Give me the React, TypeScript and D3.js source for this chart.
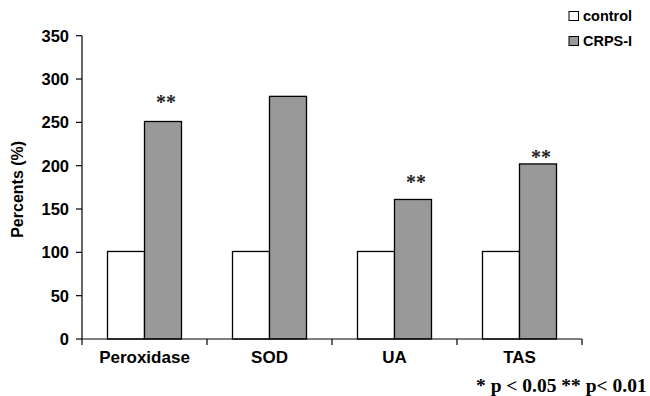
import React from 'react';
import * as d3 from 'd3';

// data
const categories = ['Peroxidase', 'SOD', 'UA', 'TAS'];
const seriesNames = ['control', 'CRPS-I'];
const controlValues = [101, 101, 101, 101];
const crpsValues = [251, 280, 161, 202];
const significance = ['**', '', '**', '**'];
// height (in %) at which each significance mark sits
const significanceLevel = [278, 0, 186, 215];
const yTicks = [0, 50, 100, 150, 200, 250, 300, 350];
const footnote = '* p < 0.05 ** p< 0.01';

const W = 650;
const H = 396;
const sans = '"Liberation Sans", Arial, sans-serif';
const serif = '"Liberation Serif", "Times New Roman", serif';
const fills = ['#ffffff', '#999999'];

export default function App() {
	const margin = { left: 82, right: 68, top: 35.7, bottom: 57 };

	const y = d3.scaleLinear()
		.domain([0, 350])
		.range([H - margin.bottom, margin.top]);

	const pad = 0.408;
	const x0 = d3.scaleBand()
		.domain(categories)
		.range([margin.left, W - margin.right])
		.paddingInner(pad)
		.paddingOuter(pad / 2);

	const x1 = d3.scaleBand()
		.domain(seriesNames)
		.range([0, x0.bandwidth()]);

	const series = [controlValues, crpsValues];
	const step = x0.step();
	const y0 = y(0);

	return (
		<svg width={W} height={H} style={{ position: 'absolute', left: 0, top: 0, background: '#fff' }}>
			{/* bars */}
			{categories.map((c, i) => (
				<g key={c} transform={`translate(${x0(c)},0)`}>
					{seriesNames.map((s, j) => (
						<rect key={s}
							x={x1(s)}
							y={y(series[j][i])}
							width={x1.bandwidth()}
							height={y0 - y(series[j][i])}
							fill={fills[j]}
							stroke="#000"
							strokeWidth={1.3} />
					))}
					{significance[i] && (
						<text
							x={(x1('CRPS-I') as number) + x1.bandwidth() / 2 + 3}
							y={y(significanceLevel[i]) + 11}
							textAnchor="middle"
							fontFamily={serif}
							fontWeight="bold"
							fontSize={20}
							fill="#222">{significance[i]}</text>
					)}
				</g>
			))}

			{/* y axis */}
			<line x1={margin.left} x2={margin.left} y1={y(350)} y2={y0} stroke="#000" strokeWidth={1.2} />
			{yTicks.map(t => (
				<g key={t} transform={`translate(0,${y(t)})`}>
					<line x1={margin.left - 6} x2={margin.left} stroke="#000" strokeWidth={1.2} />
					<text x={margin.left - 13} dy="0.36em" textAnchor="end"
						fontFamily={sans} fontWeight="bold" fontSize={16.5}>{t}</text>
				</g>
			))}
			<text transform={`translate(23,${(y(350) + y0) / 2 + 2}) rotate(-90)`}
				textAnchor="middle" fontFamily={sans} fontWeight="bold" fontSize={16}>Percents (%)</text>

			{/* x axis */}
			<line x1={margin.left} x2={W - margin.right} y1={y0} y2={y0} stroke="#000" strokeWidth={1.2} />
			{categories.map((c, i) => (
				<line key={c} x1={margin.left + step * (i + 1)} x2={margin.left + step * (i + 1)}
					y1={y0} y2={y0 + 6} stroke="#000" strokeWidth={1.2} />
			))}
			<line x1={margin.left} x2={margin.left} y1={y0} y2={y0 + 6} stroke="#000" strokeWidth={1.2} />
			{categories.map(c => (
				<text key={c} x={(x0(c) as number) + x0.bandwidth() / 2} y={y0 + 24}
					textAnchor="middle" fontFamily={sans} fontWeight="bold" fontSize={17}>{c}</text>
			))}

			{/* legend */}
			{seriesNames.map((s, j) => (
				<g key={s} transform={`translate(569,${11.5 + j * 25})`}>
					<rect x={0} y={0} width={9.5} height={9} fill={fills[j]} stroke="#000" strokeWidth={1} />
					<text x={14} y={9.5} fontFamily={sans} fontWeight="bold" fontSize={14.5}>{s}</text>
				</g>
			))}

			{/* footnote */}
			<text x={476} y={392} fontFamily={serif} fontWeight="bold" fontSize={19.5}>{footnote}</text>
		</svg>
	);
}
